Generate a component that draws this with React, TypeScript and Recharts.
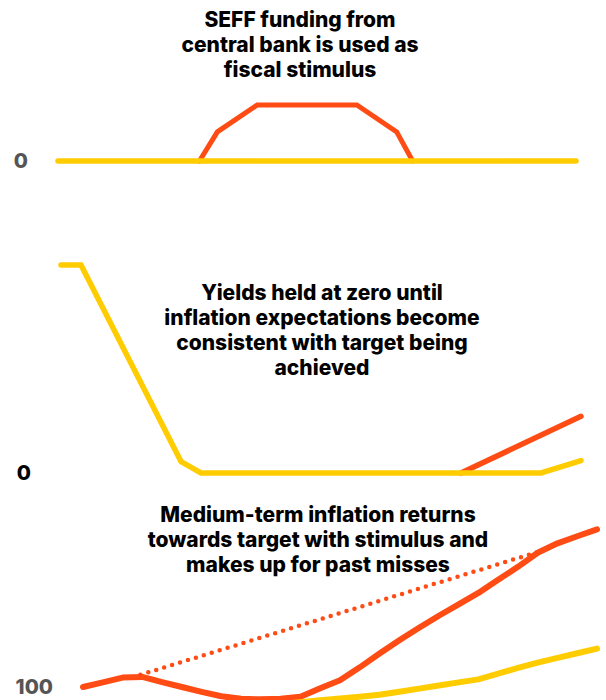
import React from "react";
import { LineChart, Line, XAxis, YAxis } from "recharts";

// ---------- Panel 1: SEFF funding ----------
const seffYellowX = [0, 26];
const seffYellowY = [0, 0];
const seffOrangeX = [7.1, 8, 10, 15, 17, 17.8];
const seffOrangeY = [0, 1.04, 2, 2, 1.04, 0];

// ---------- Panel 2: Yields ----------
const yieldYellowX = [0, 1, 6, 7, 24, 26];
const yieldYellowY = [4, 4, 0.22, 0, 0, 0.24];
const yieldOrangeX = [20, 26];
const yieldOrangeY = [0, 1.09];

// ---------- Panel 3: Medium-term inflation (price level index) ----------
const inflX = [0, 1, 2, 3, 4, 5, 6, 7, 8, 9, 10, 11, 12, 13, 14, 15, 16, 17, 18, 19, 20, 21, 22, 23, 24, 25, 26];
const inflOrange = [
  100, 100.31, 100.63, 100.67, 100.33, 100.0, 99.68, 99.38, 99.21, 99.18, 99.21, 99.35, 99.91, 100.45,
  101.31, 102.23, 103.11, 103.95, 104.75, 105.51, 106.27, 107.15, 108.01, 108.95, 109.58, 110.05, 110.51,
];
const inflYellow = [
  97.67, 97.79, 97.91, 98.03, 98.15, 98.27, 98.39, 98.51, 98.63, 98.75, 98.87, 98.99, 99.11, 99.23,
  99.35, 99.48, 99.68, 99.89, 100.1, 100.31, 100.51, 100.89, 101.27, 101.63, 101.94, 102.25, 102.56,
];
const targetX = [2.5, 23];
const targetY = [100.65, 109.0];

// ---------- Titles and tick labels ----------
const title1 = ["SEFF funding from", "central bank is used as", "fiscal stimulus"];
const title2 = ["Yields held at zero until", "inflation expectations become", "consistent with target being", "achieved"];
const title3 = ["Medium-term inflation returns", "towards target with stimulus and", "makes up for past misses"];
const ticks1 = [0];
const ticks2 = [0];
const ticks3 = [100];

const ORANGE = "#FF4B14";
const YELLOW = "#FFCC00";
const FONT = "Inter, 'Open Sans', sans-serif";

const zip = (xs: number[], ys: number[]) => xs.map((x, i) => ({ x, y: ys[i] }));

type SeriesDef = {
  key: string;
  data: { x: number; y: number }[];
  color: string;
  width: number;
  dash?: string;
  join?: "round" | "miter";
};

function Panel(props: {
  top: number;
  height: number;
  plotLeft: number;
  plotRight: number;
  domain: [number, number];
  ticks: number[];
  tickColor: string;
  series: SeriesDef[];
}) {
  const { top, height, plotLeft, plotRight, domain, ticks, tickColor, series } = props;
  return (
    <div style={{ position: "absolute", left: 0, top, width: 606, height }}>
      <LineChart width={606} height={height} margin={{ top: 0, right: 606 - plotRight, bottom: 0, left: 0 }}>
        <XAxis dataKey="x" type="number" domain={[0, 26]} hide allowDuplicatedCategory={false} />
        <YAxis
          type="number"
          domain={domain}
          ticks={ticks}
          width={plotLeft}
          axisLine={false}
          tickLine={false}
          tickSize={0}
          tickMargin={30}
          tick={{ fill: tickColor, fontSize: 20.5, fontWeight: 800, fontFamily: FONT }}
        />
        {series.map((s) => (
          <Line
            key={s.key}
            data={s.data}
            dataKey="y"
            name={s.key}
            type="linear"
            stroke={s.color}
            strokeWidth={s.width}
            strokeDasharray={s.dash}
            strokeLinecap="round"
            strokeLinejoin={s.join || "miter"}
            dot={false}
            activeDot={false}
            isAnimationActive={false}
          />
        ))}
      </LineChart>
    </div>
  );
}

function Title({ lines, top, center }: { lines: string[]; top: number; center: number }) {
  return (
    <div
      style={{
        position: "absolute",
        top,
        left: center - 250,
        width: 500,
        textAlign: "center",
        fontFamily: FONT,
        fontWeight: 800,
        fontSize: 21,
        lineHeight: "25.3px",
        color: "#000",
        zIndex: 2,
      }}
    >
      {lines.map((l) => (
        <div key={l} style={{ whiteSpace: "nowrap" }}>
          {l}
        </div>
      ))}
    </div>
  );
}

export default function App() {
  return (
    <div
      style={{
        position: "absolute",
        left: 0,
        top: 0,
        width: 606,
        height: 700,
        overflow: "hidden",
        background: "#fff",
      }}
    >
      <Panel
        top={77.3}
        height={112}
        plotLeft={58}
        plotRight={576}
        domain={[-1, 3]}
        ticks={ticks1}
        tickColor="#555555"
        series={[
          { key: "SEFF funding", data: zip(seffOrangeX, seffOrangeY), color: ORANGE, width: 5 },
          { key: "Baseline", data: zip(seffYellowX, seffYellowY), color: YELLOW, width: 5.5 },
        ]}
      />
      <Panel
        top={239.3}
        height={260}
        plotLeft={61}
        plotRight={581}
        domain={[-0.5, 4.5]}
        ticks={ticks2}
        tickColor="#000000"
        series={[
          { key: "Yields with SEFF", data: zip(yieldOrangeX, yieldOrangeY), color: ORANGE, width: 5.5 },
          { key: "Yields baseline", data: zip(yieldYellowX, yieldYellowY), color: YELLOW, width: 5.5 },
        ]}
      />
      <Panel
        top={506.7}
        height={225}
        plotLeft={83}
        plotRight={597}
        domain={[97, 112]}
        ticks={ticks3}
        tickColor="#555555"
        series={[
          { key: "Target path", data: zip(targetX, targetY), color: ORANGE, width: 4.5, dash: "0 8.3", join: "round" },
          { key: "Inflation with SEFF", data: zip(inflX, inflOrange), color: ORANGE, width: 6, join: "round" },
          { key: "Inflation baseline", data: zip(inflX, inflYellow), color: YELLOW, width: 6, join: "round" },
        ]}
      />
      <Title lines={title1} top={6.5} center={300} />
      <Title lines={title2} top={279.5} center={322} />
      <Title lines={title3} top={501.5} center={318} />
    </div>
  );
}
